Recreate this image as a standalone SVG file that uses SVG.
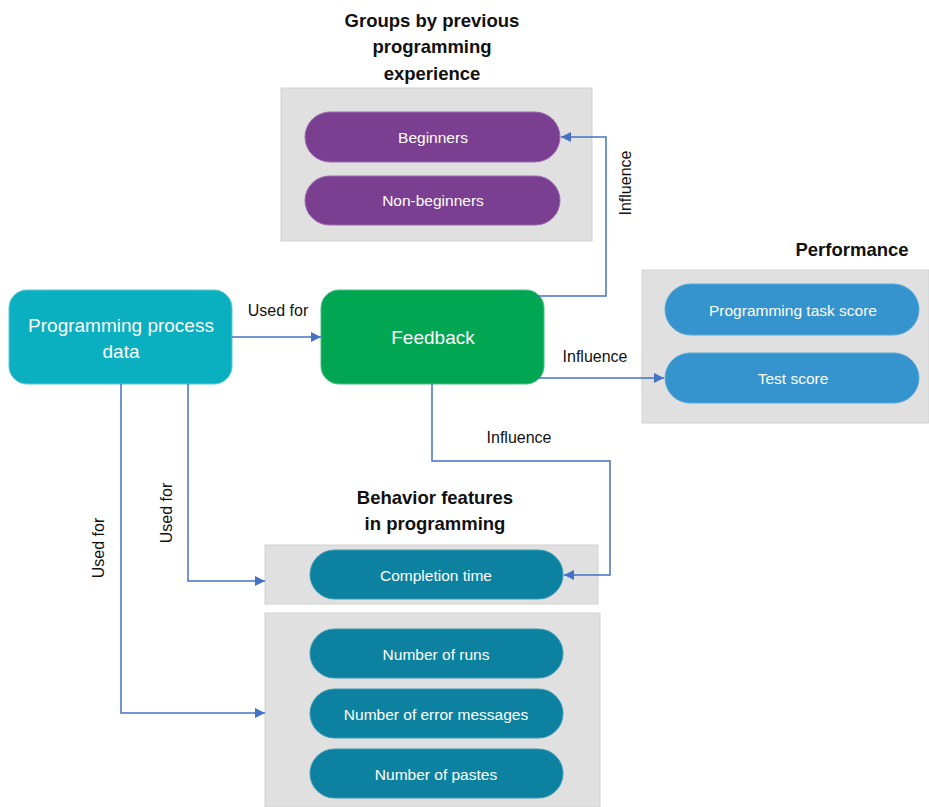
<svg xmlns="http://www.w3.org/2000/svg" width="929" height="807" viewBox="0 0 929 807">
  <defs>
    <marker id="arrow" viewBox="0 0 10 10" refX="10" refY="5" markerWidth="10" markerHeight="10" markerUnits="userSpaceOnUse" orient="auto">
      <path d="M0,0 L10,5 L0,10 z" fill="#4472C4"/>
    </marker>
    <style>
      text { font-family: "Liberation Sans", Arial, sans-serif; }
      .panel { fill: #E0E0E0; stroke: #D2D2D2; stroke-width: 1; }
      .title { font-size: 18.5px; font-weight: bold; fill: #111; text-anchor: middle; }
      .pill-text { font-size: 15.5px; fill: #FFFFFF; text-anchor: middle; dominant-baseline: central; }
      .big-text { font-size: 19px; fill: #FFFFFF; text-anchor: middle; }
      .label { font-size: 16px; fill: #111; text-anchor: middle; }
      .purple { fill: #7B3F91; stroke: #9B6AAE; stroke-width: 1; }
      .blue { fill: #3593CE; stroke: #5AA8DA; stroke-width: 1; }
      .teal { fill: #0C82A0; stroke: #3A9AB3; stroke-width: 1; }
      .conn { fill: none; stroke: #4472C4; stroke-width: 1.5; marker-end: url(#arrow); }
    </style>
  </defs>

  <rect width="929" height="807" fill="#FFFFFF"/>

  <!-- Experience groups -->
  <g id="groups">
    <text class="title" x="432" y="27">Groups by previous</text>
    <text class="title" x="432" y="53">programming</text>
    <text class="title" x="432" y="80">experience</text>
    <rect class="panel" x="281" y="88" width="311" height="153"/>
  </g>
  <g id="beginners">
    <rect class="purple" x="305" y="112" width="255" height="50" rx="25"/>
    <text class="pill-text" x="433" y="137">Beginners</text>
  </g>
  <g id="non-beginners">
    <rect class="purple" x="305" y="176" width="255" height="49" rx="24.5"/>
    <text class="pill-text" x="433" y="200">Non-beginners</text>
  </g>

  <!-- Source data -->
  <g id="process-data">
    <rect x="9" y="290" width="223" height="94" rx="18" fill="#0AAFC0" stroke="#5CC8D3" stroke-width="1"/>
    <text class="big-text" x="121" y="332">Programming process</text>
    <text class="big-text" x="121" y="358">data</text>
  </g>

  <!-- Feedback -->
  <g id="feedback">
    <rect x="321" y="290" width="223" height="94" rx="18" fill="#00A651" stroke="#4CC080" stroke-width="1"/>
    <text class="big-text" x="433" y="344">Feedback</text>
  </g>

  <!-- Performance -->
  <g id="performance">
    <text class="title" x="852" y="256">Performance</text>
    <rect class="panel" x="642" y="270" width="287" height="153"/>
  </g>
  <g id="task-score">
    <rect class="blue" x="665" y="284" width="254" height="51" rx="25.5"/>
    <text class="pill-text" x="793" y="310">Programming task score</text>
  </g>
  <g id="test-score">
    <rect class="blue" x="665" y="353" width="254" height="50" rx="25"/>
    <text class="pill-text" x="793" y="378">Test score</text>
  </g>

  <!-- Behavior features -->
  <g id="behavior">
    <text class="title" x="435" y="504">Behavior features</text>
    <text class="title" x="435" y="530">in programming</text>
    <rect class="panel" x="265" y="545" width="333" height="59"/>
    <rect class="panel" x="265" y="613" width="335" height="194"/>
  </g>
  <g id="completion-time">
    <rect class="teal" x="310" y="550" width="253" height="49" rx="24.5"/>
    <text class="pill-text" x="436" y="575">Completion time</text>
  </g>
  <g id="runs">
    <rect class="teal" x="310" y="629" width="253" height="49" rx="24.5"/>
    <text class="pill-text" x="436" y="654">Number of runs</text>
  </g>
  <g id="error-messages">
    <rect class="teal" x="310" y="689" width="253" height="49" rx="24.5"/>
    <text class="pill-text" x="436" y="714">Number of error messages</text>
  </g>
  <g id="pastes">
    <rect class="teal" x="310" y="749" width="253" height="49" rx="24.5"/>
    <text class="pill-text" x="436" y="774">Number of pastes</text>
  </g>

  <!-- Connectors -->
  <g id="connectors">
    <path class="conn" d="M232,337 H321"/>
    <path class="conn" d="M538,296 H606 V137 H561"/>
    <path class="conn" d="M538,378 H664"/>
    <path class="conn" d="M432,384 V461 H610 V575 H564"/>
    <path class="conn" d="M188,384 V581 H265"/>
    <path class="conn" d="M121,384 V713 H265"/>

    <text class="label" x="278" y="316">Used for</text>
    <text class="label" x="595" y="362">Influence</text>
    <text class="label" x="519" y="443">Influence</text>
    <text class="label" transform="translate(631,183) rotate(-90)">Influence</text>
    <text class="label" transform="translate(172,513) rotate(-90)">Used for</text>
    <text class="label" transform="translate(104,548) rotate(-90)">Used for</text>
  </g>
</svg>
